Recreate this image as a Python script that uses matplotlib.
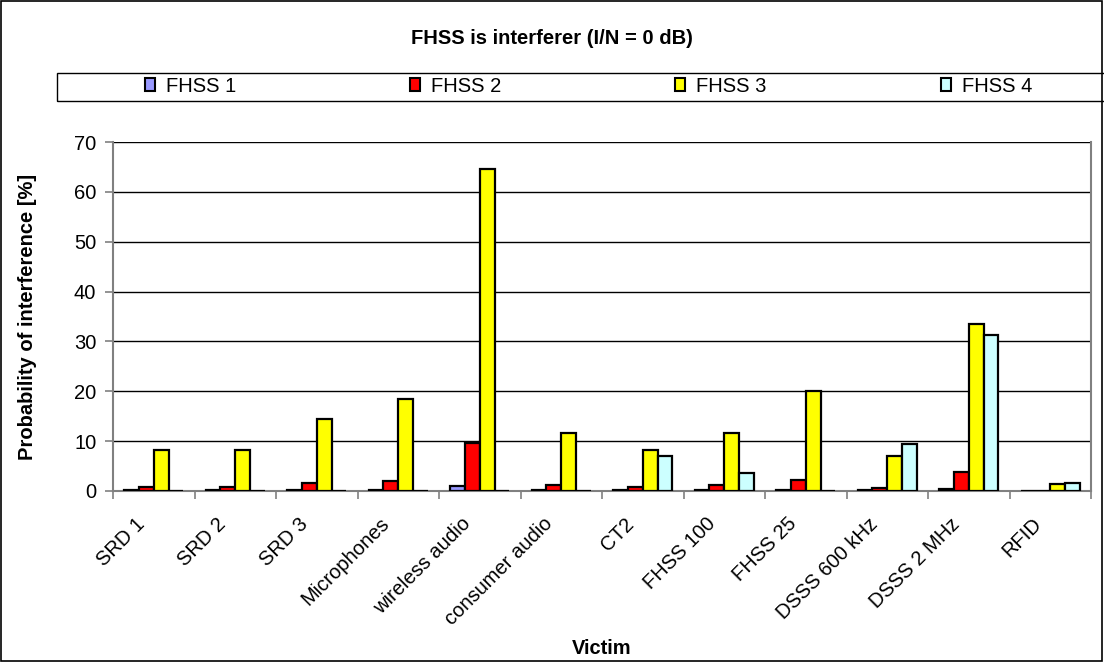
import numpy as np
import matplotlib.pyplot as plt
from matplotlib.patches import Rectangle, Patch
from matplotlib.transforms import ScaledTranslation, blended_transform_factory

victims = ['SRD 1', 'SRD 2', 'SRD 3', 'Microphones', 'wireless audio',
           'consumer audio', 'CT2', 'FHSS 100', 'FHSS 25', 'DSSS 600 kHz',
           'DSSS 2 MHz', 'RFID']
series_names = ['FHSS 1', 'FHSS 2', 'FHSS 3', 'FHSS 4']
fhss1 = [0.2, 0.2, 0.3, 0.3, 1.1, 0.3, 0.2, 0.2, 0.3, 0.2, 0.4, 0.0]
fhss2 = [0.9, 0.9, 1.6, 2.0, 9.7, 1.3, 0.9, 1.2, 2.3, 0.7, 3.9, 0.1]
fhss3 = [8.2, 8.2, 14.4, 18.4, 64.5, 11.7, 8.2, 11.7, 20.1, 7.0, 33.5, 1.5]
fhss4 = [0.0, 0.0, 0.0, 0.0, 0.0, 0.0, 7.0, 3.7, 0.1, 9.4, 31.2, 1.7]
colors = ['#9999FF', '#FF0000', '#FFFF00', '#CCFFFF']

plt.rcParams['font.family'] = ['Liberation Sans', 'DejaVu Sans']
plt.rcParams['font.size'] = 14.5

W, H = 1104, 662
fig = plt.figure(figsize=(W / 100, H / 100), dpi=100)
ax = fig.add_axes([113 / W, 1 - 491 / H, 978 / W, 349 / H])

# outer chart border
fig.patches.append(Rectangle((0.001, 0.002), 0.997, 0.996, transform=fig.transFigure,
                             fill=False, edgecolor='black', linewidth=1.2))

x = np.arange(len(victims)) + 0.5
w = 1 / 5.5
for k, (vals, c, name) in enumerate(zip([fhss1, fhss2, fhss3, fhss4], colors, series_names)):
    ax.bar(x + (k - 1.5) * w, vals, width=w, color=c, edgecolor='black',
           linewidth=1.6, label=name, zorder=3)

ax.set_xlim(0, len(victims))
ax.set_ylim(0, 70)
ax.set_yticks(range(0, 71, 10))
ax.yaxis.grid(True, color='black', linewidth=1, zorder=0)
# ticks at category boundaries, labels at centres (Excel style)
ax.set_xticks(np.arange(len(victims) + 1))
ax.set_xticklabels([])
lbl_tr = blended_transform_factory(ax.transData, ax.transAxes) + \
    ScaledTranslation(-12 / 100, -30 / 100, fig.dpi_scale_trans)
for xi, name in zip(x, victims):
    ax.text(xi, 0, name, transform=lbl_tr, rotation=45, ha='right', va='center',
            rotation_mode='anchor')
ax.tick_params(axis='x', length=6, width=1.2, color='#808080', direction='out')
ax.tick_params(axis='y', length=6, width=1.2, color='#808080', pad=6)
for s in ['left', 'bottom', 'right']:
    ax.spines[s].set_color('#808080')
    ax.spines[s].set_linewidth(1.5)
ax.spines['top'].set_visible(False)

ax.set_ylabel('Probability of interference [%]', fontweight='bold')
ax.yaxis.set_label_coords((28 - 113) / 978, 0.5)
ax.yaxis.label.set_va('center')
ax.set_xlabel('Victim', fontweight='bold')
ax.xaxis.set_label_coords(0.5, (491 - 648) / 349)
ax.xaxis.label.set_va('center')

fig.text(0.5, 1 - 38 / H, 'FHSS is interferer (I/N = 0 dB)', ha='center',
         va='center', fontweight='bold')

# legend box
fig.patches.append(Rectangle((57 / W, 1 - 101 / H), 1.1, 28 / H,
                             transform=fig.transFigure, fill=False,
                             edgecolor='black', linewidth=1))
legend_x = [145, 410, 675, 941]
for lx, c, name in zip(legend_x, colors, series_names):
    h = Patch(facecolor=c, edgecolor='black', linewidth=1.5)
    fig.legend([h], [name], loc='center left', frameon=False,
               bbox_to_anchor=(lx / W, 1 - 86 / H), handlelength=0.5,
               handleheight=0.6, handletextpad=0.55, borderpad=0,
               borderaxespad=0)

fig.savefig('out.png', dpi=100)
